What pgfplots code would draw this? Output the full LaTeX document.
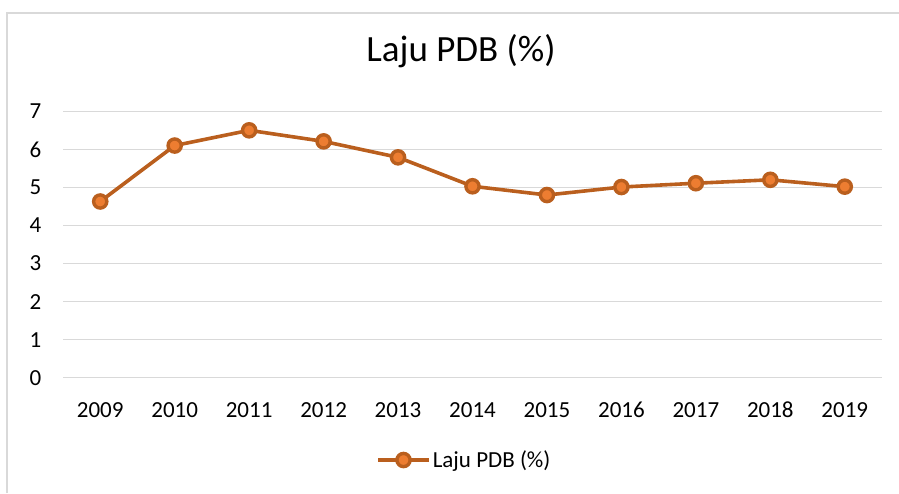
\documentclass[border=0pt]{standalone}
\usepackage{fontspec}
\setmainfont{Carlito}
\usepackage{pgfplots}
\pgfplotsset{compat=1.18}
\definecolor{lineor}{HTML}{BA5F1E}
\definecolor{markor}{HTML}{ED7D31}
\definecolor{gridg}{HTML}{D9D9D9}
\begin{document}
\begin{tikzpicture}[x=1pt,y=1pt]
\useasboundingbox (0,0) rectangle (899,493);
\draw[gridg, line width=1.3pt] (7,0) -- (7,480) -- (899,480);
\begin{axis}[
  at={(63pt,115.3pt)}, anchor=south west,
  scale only axis, width=819pt, height=266.4pt,
  xmin=-0.5, xmax=10.5, ymin=0, ymax=7,
  xtick={0,1,2,3,4,5,6,7,8,9,10},
  xticklabels={2009,2010,2011,2012,2013,2014,2015,2016,2017,2018,2019},
  ytick={0,1,2,3,4,5,6,7},
  ymajorgrids, major grid style={gridg, line width=1.5pt},
  axis line style={draw=none}, major tick length=0pt,
  tick label style={font=\fontsize{23}{27}\selectfont},
  /pgf/number format/assume math mode=true,
  xticklabel style={anchor=center, yshift=-32pt},
  yticklabel style={anchor=center, xshift=-27.5pt},
  title={Laju PDB (\%)},
  title style={at={(axis description cs:0.486,1.204)}, anchor=center, font=\fontsize{37}{44}\selectfont},
  legend style={at={(axis description cs:0.49,-0.309)}, anchor=center, draw=none, fill=none,
    font=\fontsize{23}{27}\selectfont, inner sep=0pt},
  legend image code/.code={\draw[mark repeat=2,mark phase=2,#1] plot coordinates {(0pt,0pt) (25.5pt,0pt) (51pt,0pt)};},
  clip=false,
]
\addplot[color=lineor, line width=3.6pt, mark=*, mark size=6.6pt, mark options={fill=markor, draw=lineor, solid, line width=3.4pt}]
  coordinates {(0,4.63) (1,6.10) (2,6.50) (3,6.21) (4,5.79) (5,5.03) (6,4.80) (7,5.01) (8,5.11) (9,5.20) (10,5.02)};
\addlegendentry{Laju PDB (\%)}
\end{axis}
\end{tikzpicture}
\end{document}
